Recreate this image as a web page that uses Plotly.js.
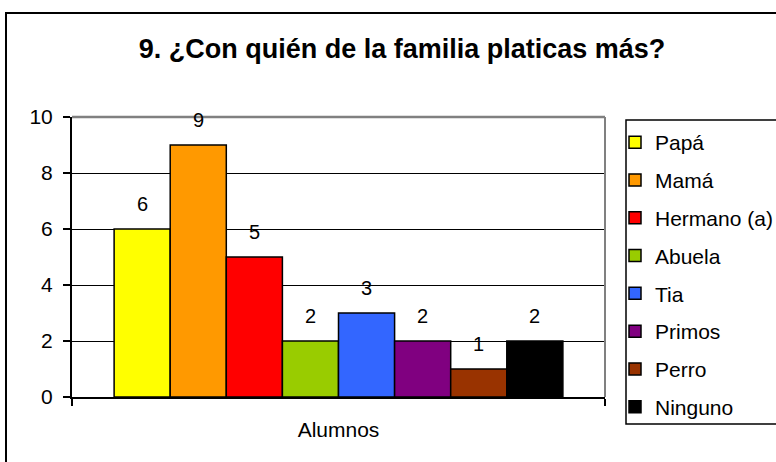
<!DOCTYPE html>
<html>
<head>
<meta charset="utf-8">
<script src="https://cdn.plot.ly/plotly-3.0.1.min.js"></script>
<style>html,body{margin:0;padding:0;background:#fff;}#chart{width:776px;height:462px;}</style>
</head>
<body>
<div id="chart"></div>
<script>
// ---- data ----
const categories = ['Alumnos'];
const seriesNames = ['Papá', 'Mamá', 'Hermano (a)', 'Abuela', 'Tia', 'Primos', 'Perro', 'Ninguno'];
const seriesValues = [6, 9, 5, 2, 3, 2, 1, 2];
const yTickValues = [0, 2, 4, 6, 8, 10];
const chartTitle = '9. ¿Con quién de la familia platicas más?';

// ---- styles ----
const seriesColors = ['#FFFF00', '#FF9900', '#FF0000', '#99CC00', '#3366FF', '#800080', '#993300', '#000000'];
const FONT = 'Liberation Sans, Arial, sans-serif';
const W = 776, H = 462;
const L = 72, R = 605, T = 117, B = 397;
const pw = R - L, ph = B - T;
const fx = px => (px - L) / pw;
const fy = py => (B - py) / ph;
const BARGAP = 0.158;

const traces = seriesNames.map((name, i) => ({
  type: 'bar',
  name: name,
  legendgroup: name,
  x: categories,
  y: [seriesValues[i]],
  marker: {color: seriesColors[i], line: {color: '#000', width: 1.5}},
  hoverinfo: 'name+y'
}));

const n = seriesNames.length;
const bw = (1 - BARGAP) / n;
const annotations = seriesValues.map((v, i) => ({
  x: -0.5 + BARGAP / 2 + (i + 0.5) * bw,
  y: v, xref: 'x', yref: 'y',
  text: String(v), showarrow: false,
  yanchor: 'middle', yshift: 25,
  font: {family: FONT, size: 20, color: '#000'}
}));

const shapes = [
  // outer chart border
  {type: 'rect', xref: 'paper', yref: 'paper', x0: fx(6), x1: fx(790), y0: fy(475), y1: fy(13),
   line: {color: '#000', width: 2}, fillcolor: 'rgba(0,0,0,0)', layer: 'below'},
  // plot area gray border (top and right)
  {type: 'line', xref: 'paper', yref: 'paper', x0: 0, x1: 1, y0: 1, y1: 1, line: {color: '#808080', width: 2.5}},
  {type: 'line', xref: 'paper', yref: 'paper', x0: 1, x1: 1, y0: 0, y1: 1, line: {color: '#808080', width: 2}},
  // legend box
  {type: 'rect', xref: 'paper', yref: 'paper', x0: fx(626), x1: fx(800), y0: fy(424), y1: fy(120),
   line: {color: '#000', width: 1.5}, fillcolor: 'rgba(0,0,0,0)'}
];

const layout = {
  width: W, height: H,
  margin: {l: L, r: W - R, t: T, b: H - B, autoexpand: false},
  paper_bgcolor: '#fff', plot_bgcolor: '#fff',
  font: {family: FONT, size: 21, color: '#000'},
  title: {
    text: '<b>' + chartTitle + '</b>',
    font: {family: FONT, size: 27, color: '#000'},
    xref: 'container', x: 402 / W, xanchor: 'center',
    yref: 'container', y: 1 - 49 / H, yanchor: 'middle'
  },
  barmode: 'group', bargap: BARGAP, bargroupgap: 0,
  showlegend: true,
  legend: {
    x: fx(615), xanchor: 'left', y: fy(122), yanchor: 'top',
    bgcolor: 'rgba(0,0,0,0)', borderwidth: 0,
    font: {family: FONT, size: 21, color: '#000'},
    traceorder: 'grouped', tracegroupgap: 7.5,
    maxheight: 420
  },
  xaxis: {
    type: 'category', showgrid: false, zeroline: false,
    showline: true, linecolor: '#000', linewidth: 2,
    ticks: 'outside', tickson: 'boundaries', ticklen: 7, tickwidth: 2, tickcolor: '#000',
    ticklabelstandoff: 13,
    tickfont: {family: FONT, size: 21, color: '#000'},
    fixedrange: true
  },
  yaxis: {
    range: [0, 10], tickvals: yTickValues, ticktext: yTickValues.map(String),
    showgrid: true, gridcolor: '#000', gridwidth: 1, zeroline: false,
    showline: true, linecolor: '#000', linewidth: 2,
    ticks: 'outside', ticklen: 7, tickwidth: 2, tickcolor: '#000',
    ticklabelstandoff: 6,
    tickfont: {family: FONT, size: 21, color: '#000'},
    fixedrange: true
  },
  annotations: annotations,
  shapes: shapes
};

Plotly.newPlot('chart', traces, layout, {displayModeBar: false, staticPlot: true});
</script>
</body>
</html>
